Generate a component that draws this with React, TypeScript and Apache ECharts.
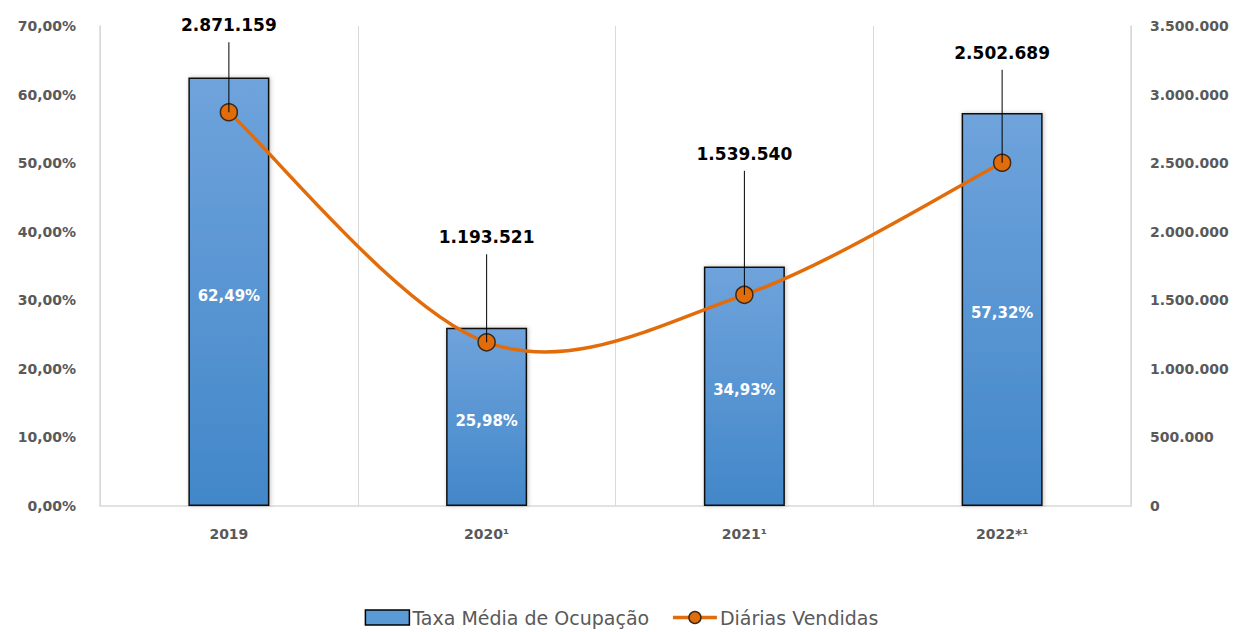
import React, { useEffect, useRef } from "react";
import * as echarts from "echarts";

const categories = ["2019", "2020¹", "2021¹", "2022*¹"];
const taxaOcupacao = [62.49, 25.98, 34.93, 57.32];
const diariasVendidas = [2871159, 1193521, 1539540, 2502689];
const labelRise = [87, 105, 141, 110];
const leftTicks = { min: 0, max: 70, interval: 10 };
const rightTicks = { min: 0, max: 3500000, interval: 500000 };

const fmtThousands = (v: number) =>
  String(Math.round(v)).replace(/\B(?=(\d{3})+(?!\d))/g, ".");
const fmtPct = (v: number) => v.toFixed(2).replace(".", ",") + "%";

const FONT = "'DejaVu Sans', Verdana, sans-serif";

export default function App() {
  const ref = useRef<HTMLDivElement>(null);
  useEffect(() => {
    document.body.style.margin = "0";
    const chart = echarts.init(ref.current!, null, { renderer: "svg" });
    const orange = "#E36C0A";
    const n = diariasVendidas.length;
    chart.setOption({
      animation: false,
      grid: { left: 100, right: 112, top: 26, bottom: 126 },
      legend: {
        bottom: 0,
        left: "center",
        itemGap: 22,
        itemWidth: 44,
        itemHeight: 15,
        textStyle: { fontFamily: FONT, fontSize: 19, color: "#595959", padding: [0, 0, 0, -2] },
        data: [
          {
            name: "Taxa Média de Ocupação",
            icon: "rect",
            itemStyle: { color: "#5B9BD5", borderColor: "#000", borderWidth: 1.5 },
          },
          {
            name: "Diárias Vendidas",
            itemStyle: { color: orange, borderColor: "#3B2A1A", borderWidth: 1.5 },
            lineStyle: { color: orange, width: 3.5, opacity: 1 },
          },
        ],
      },
      xAxis: {
        type: "category",
        data: categories,
        axisLine: { lineStyle: { color: "#D9D9D9", width: 1.5 } },
        axisTick: { show: false },
        splitLine: { show: true, lineStyle: { color: "#D9D9D9", width: 1 } },
        axisLabel: {
          margin: 21,
          fontFamily: FONT,
          fontSize: 14,
          fontWeight: "bold",
          color: "#595959",
        },
      },
      yAxis: [
        {
          type: "value",
          ...leftTicks,
          axisLine: { show: true, lineStyle: { color: "#D9D9D9", width: 1.5 } },
          axisTick: { show: false },
          splitLine: { show: false },
          axisLabel: {
            margin: 24,
            fontFamily: FONT,
            fontSize: 14,
            fontWeight: "bold",
            color: "#595959",
            formatter: (v: number) => fmtPct(v),
          },
        },
        {
          type: "value",
          ...rightTicks,
          position: "right",
          axisLine: { show: true, lineStyle: { color: "#D9D9D9", width: 1.5 } },
          axisTick: { show: false },
          splitLine: { show: false },
          axisLabel: {
            margin: 19,
            fontFamily: FONT,
            fontSize: 14,
            fontWeight: "bold",
            color: "#595959",
            formatter: (v: number) => fmtThousands(v),
          },
        },
      ],
      series: [
        {
          name: "Taxa Média de Ocupação",
          type: "bar",
          yAxisIndex: 0,
          data: taxaOcupacao,
          barWidth: 81,
          itemStyle: {
            color: new echarts.graphic.LinearGradient(0, 0, 0, 1, [
              { offset: 0, color: "#6FA3DC" },
              { offset: 1, color: "#4287C9" },
            ]),
            borderColor: "#111",
            borderWidth: 1.5,
            shadowColor: "rgba(0,0,0,0.25)",
            shadowBlur: 4,
            shadowOffsetX: 1,
          },
          label: {
            show: true,
            position: "inside",
            offset: [0, 4],
            formatter: (p: any) => fmtPct(p.value),
            color: "#fff",
            fontFamily: FONT,
            fontSize: 15,
            fontWeight: "bold",
          },
          z: 1,
        },
        {
          name: "curve",
          type: "custom",
          yAxisIndex: 1,
          data: diariasVendidas.slice(0, n - 1).map((v, i) => [i, v]),
          z: 2,
          silent: true,
          renderItem: (params: any, api: any) => {
            const i = api.value(0);
            const pt = (j: number) => {
              const k = Math.max(0, Math.min(n - 1, j));
              return api.coord([k, diariasVendidas[k]]);
            };
            const p0 = pt(i - 1);
            const p1 = pt(i);
            const p2 = pt(i + 1);
            const p3 = pt(i + 2);
            const t = 1 / 6;
            return {
              type: "bezierCurve",
              shape: {
                x1: p1[0],
                y1: p1[1],
                cpx1: p1[0] + (p2[0] - p0[0]) * t,
                cpy1: p1[1] + (p2[1] - p0[1]) * t,
                cpx2: p2[0] - (p3[0] - p1[0]) * t,
                cpy2: p2[1] - (p3[1] - p1[1]) * t,
                x2: p2[0],
                y2: p2[1],
              },
              style: { stroke: orange, lineWidth: 3.5, fill: null, lineCap: "round" },
            };
          },
        },
        {
          name: "Diárias Vendidas",
          type: "line",
          yAxisIndex: 1,
          data: diariasVendidas,
          symbol: "circle",
          symbolSize: 17,
          lineStyle: { color: orange, width: 3.5, opacity: 0 },
          itemStyle: { color: orange, borderColor: "#3B2A1A", borderWidth: 1.5 },
          z: 3,
        },
        {
          name: "labels",
          type: "custom",
          yAxisIndex: 1,
          data: diariasVendidas.map((v, i) => [i, v, labelRise[i]]),
          z: 5,
          silent: true,
          renderItem: (params: any, api: any) => {
            const p = api.coord([api.value(0), api.value(1)]);
            const rise = api.value(2);
            return {
              type: "group",
              children: [
                {
                  type: "line",
                  shape: { x1: p[0], y1: p[1], x2: p[0], y2: p[1] - rise + 17 },
                  style: { stroke: "#000", lineWidth: 1 },
                },
                {
                  type: "text",
                  x: p[0],
                  y: p[1] - rise,
                  style: {
                    text: fmtThousands(api.value(1)),
                    textAlign: "center",
                    textVerticalAlign: "middle",
                    font: `bold 17px ${FONT}`,
                    fill: "#000",
                  },
                },
              ],
            };
          },
        },
      ],
    });
    return () => chart.dispose();
  }, []);
  return <div ref={ref} style={{ width: 1243, height: 632 }} />;
}
